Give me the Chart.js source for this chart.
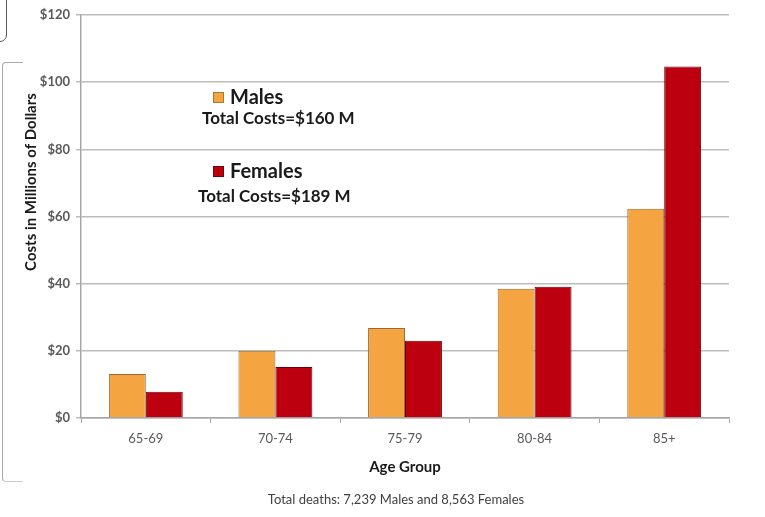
<!DOCTYPE html>
<html>
<head>
<meta charset="utf-8">
<script src="https://cdn.jsdelivr.net/npm/chart.js@4/dist/chart.umd.min.js"></script>
<style>
  html, body { margin: 0; padding: 0; background: #fff; }
  #wrap { position: relative; width: 765px; height: 517px; overflow: hidden; }
  #c { position: absolute; left: 0; top: 0; }
  .frame1 { position: absolute; left: -12px; top: -12px; width: 17px; height: 52px; border: 1px solid #555; border-radius: 7px; }
  .frame2 { position: absolute; left: 2px; top: 62px; width: 20px; height: 418px; border-left: 1px solid #aaa; border-top: 1px solid #aaa; border-bottom: 1px solid #ccc; border-radius: 4px 0 0 4px; border-right: none; }
</style>
</head>
<body>
<div id="wrap">
  <canvas id="c" width="765" height="517"></canvas>
  <div class="frame1"></div>
  <div class="frame2"></div>
</div>
<script>
const categories = ["65-69", "70-74", "75-79", "80-84", "85+"];
const males = [13.1, 20.0, 26.8, 38.5, 62.3];
const females = [7.8, 15.2, 23.0, 39.1, 104.7];
const seriesNames = ["Males", "Females"];
const totalLabels = ["Total Costs=$160 M", "Total Costs=$189 M"];
const yTitle = "Costs in Millions of Dollars";
const xTitle = "Age Group";
const footer = "Total deaths: 7,239 Males and 8,563 Females";

const FONT = "Lato, 'Open Sans', sans-serif";
const orange = "#F4A440";
const red = "#BC0010";

const annot = {
  id: "annot",
  afterDraw(chart) {
    const ctx = chart.ctx;
    const a = chart.chartArea;
    ctx.save();
    const items = [
      { color: orange, border: "#9a6a30", name: seriesNames[0], total: totalLabels[0], y: 98, ty: 119, tx: 202 },
      { color: red, border: "#6a0008", name: seriesNames[1], total: totalLabels[1], y: 172, ty: 197, tx: 198 }
    ];
    items.forEach(it => {
      ctx.fillStyle = it.color;
      ctx.fillRect(213, it.y - 6, 11, 11);
      ctx.strokeStyle = it.border;
      ctx.lineWidth = 0.8;
      ctx.strokeRect(213.5, it.y - 5.5, 10, 10);
      ctx.fillStyle = "#1a1a1a";
      ctx.font = "bold 20px " + FONT;
      ctx.textAlign = "left";
      ctx.textBaseline = "middle";
      ctx.fillText(it.name, 230, it.y);
      ctx.font = "bold 17px " + FONT;
      ctx.fillText(it.total, it.tx, it.ty);
    });
    ctx.save();
    ctx.translate(31, 182);
    ctx.rotate(-Math.PI / 2);
    ctx.font = "bold 15px " + FONT;
    ctx.fillStyle = "#1a1a1a";
    ctx.textAlign = "center";
    ctx.textBaseline = "middle";
    ctx.fillText(yTitle, 0, 0);
    ctx.restore();
    ctx.font = "bold 15px " + FONT;
    ctx.fillStyle = "#1a1a1a";
    ctx.textAlign = "center";
    ctx.textBaseline = "middle";
    ctx.fillText(xTitle, 405, 467);
    ctx.font = "13px " + FONT;
    ctx.fillStyle = "#404040";
    ctx.fillText(footer, 396, 500);
    ctx.restore();
  }
};

new Chart(document.getElementById("c"), {
  type: "bar",
  data: {
    labels: categories,
    datasets: [
      { label: seriesNames[0], data: males, backgroundColor: orange, borderColor: "#9a6a30", borderWidth: 1, barPercentage: 1.0, categoryPercentage: 0.57 },
      { label: seriesNames[1], data: females, backgroundColor: red, borderColor: "#6a0008", borderWidth: 1, barPercentage: 1.0, categoryPercentage: 0.57 }
    ]
  },
  options: {
    responsive: false,
    animation: false,
    devicePixelRatio: 1,
    layout: { padding: { left: 0, right: 36, top: 15, bottom: 0 } },
    plugins: { legend: { display: false }, tooltip: { enabled: false } },
    scales: {
      x: {
        offset: true,
        grid: { offset: true, drawOnChartArea: false, drawTicks: true, tickLength: 5, color: "#a6a6a6", lineWidth: 1 },
        border: { display: true, color: "#a6a6a6", width: 1.5 },
        ticks: { color: "#595959", font: { family: FONT, size: 13 }, padding: 8 },
        afterFit(s) { s.height = 99; }
      },
      y: {
        min: 0, max: 120,
        grid: { color: "#bcbcbc", lineWidth: 1.5, tickLength: 5, drawTicks: true },
        border: { display: true, color: "#a6a6a6", width: 1.5 },
        ticks: { stepSize: 20, color: "#595959", font: { family: FONT, size: 13, weight: "bold" }, padding: 6, callback: v => "$" + v },
        afterFit(s) { s.width = 81; }
      }
    }
  },
  plugins: [annot]
});
</script>
</body>
</html>
